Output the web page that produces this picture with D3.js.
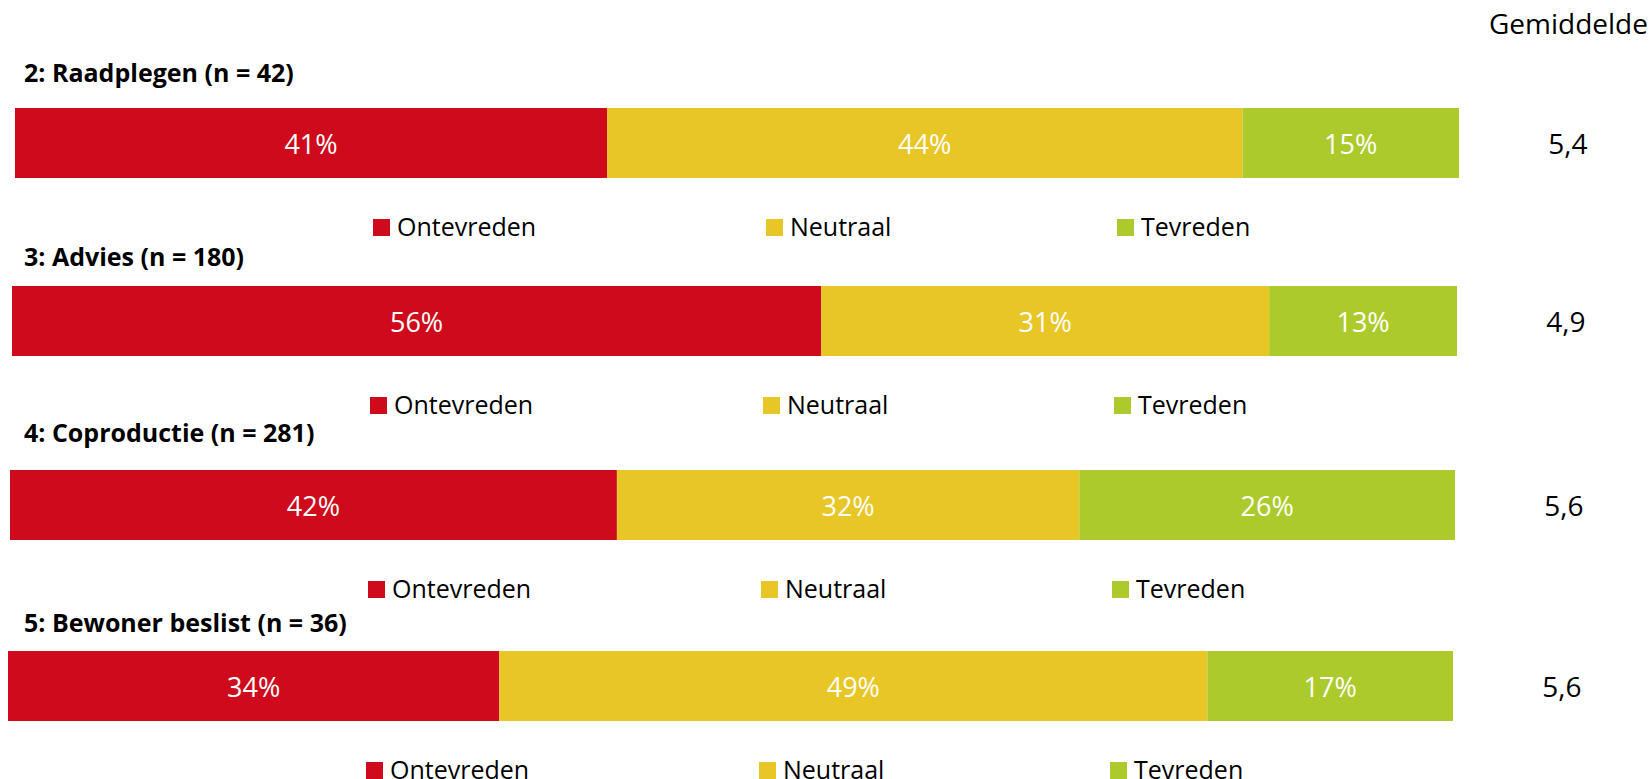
<!DOCTYPE html>
<html lang="nl">
<head>
    <meta charset="UTF-8">
    <title>Tevredenheid per trede</title>
    <script src="https://d3js.org/d3.v7.min.js"></script>
    <style>
        body { margin: 0; background: #fff; }
        svg text { font-family: "Open Sans", "DejaVu Sans", sans-serif; }
    </style>
</head>
<body>
<div id="chartArea"></div>

<script>
    // data
    const categories = ["2: Raadplegen (n = 42)", "3: Advies (n = 180)", "4: Coproductie (n = 281)", "5: Bewoner beslist (n = 36)"];
    const seriesNames = ["Ontevreden", "Neutraal", "Tevreden"];
    const ontevreden = [41, 56, 42, 34];
    const neutraal = [44, 31, 32, 49];
    const tevreden = [15, 13, 26, 17];
    const gemiddelde = [5.4, 4.9, 5.6, 5.6];
    const meanTitle = "Gemiddelde";

    const colors = ["#ce0a1c", "#e8c626", "#acca2b"];

    // every panel is its own little chart, each shifted a bit
    const panels = [
        { left: 15, right: 1459, barTop: 108, titleY: 82 },
        { left: 12, right: 1457, barTop: 286, titleY: 266 },
        { left: 10, right: 1455, barTop: 470, titleY: 442 },
        { left: 8,  right: 1453, barTop: 651, titleY: 632 }
    ];
    const barH = 70;
    const legendX = [358, 751, 1102];

    const rows = categories.map((c, i) => ({
        cat: c, Ontevreden: ontevreden[i], Neutraal: neutraal[i], Tevreden: tevreden[i], mean: gemiddelde[i]
    }));
    const stack = d3.stack().keys(seriesNames)(rows);
    const color = d3.scaleOrdinal().domain(seriesNames).range(colors);
    const fmtMean = v => d3.format(".1f")(v).replace(".", ",");

    const svg = d3.select("#chartArea").append("svg")
        .attr("width", 1650)
        .attr("height", 779);

    svg.append("text")
        .attr("x", 1489)
        .attr("y", 34)
        .attr("font-size", 28)
        .attr("fill", "#000")
        .text(meanTitle);

    panels.forEach((p, i) => {
        const x = d3.scaleLinear().domain([0, 100]).range([p.left, p.right]);
        const g = svg.append("g");

        g.append("text")
            .attr("x", 24)
            .attr("y", p.titleY)
            .attr("font-size", 25)
            .attr("font-weight", "bold")
            .attr("fill", "#000")
            .text(categories[i]);

        const segs = stack.map(s => ({ key: s.key, d0: s[i][0], d1: s[i][1] }));

        g.selectAll("rect.seg")
            .data(segs)
            .enter()
            .append("rect")
            .attr("class", "seg")
            .attr("x", d => x(d.d0))
            .attr("y", p.barTop)
            .attr("width", d => x(d.d1) - x(d.d0))
            .attr("height", barH)
            .attr("fill", d => color(d.key));

        g.selectAll("text.lbl")
            .data(segs)
            .enter()
            .append("text")
            .attr("class", "lbl")
            .attr("x", d => (x(d.d0) + x(d.d1)) / 2)
            .attr("y", p.barTop + barH / 2 + 11)
            .attr("text-anchor", "middle")
            .attr("font-size", 27)
            .attr("fill", "#fff")
            .text(d => (d.d1 - d.d0) + "%");

        g.append("text")
            .attr("x", p.right + 109)
            .attr("y", p.barTop + barH / 2 + 11)
            .attr("text-anchor", "middle")
            .attr("font-size", 28)
            .attr("fill", "#000")
            .text(fmtMean(rows[i].mean));

        // legend under each bar
        const leg = g.selectAll("g.leg")
            .data(seriesNames)
            .enter()
            .append("g")
            .attr("class", "leg")
            .attr("transform", (d, j) => "translate(" + (p.left + legendX[j]) + "," + (p.barTop + 111) + ")");
        leg.append("rect")
            .attr("width", 17)
            .attr("height", 17)
            .attr("fill", d => color(d));
        leg.append("text")
            .attr("x", 24)
            .attr("y", 17)
            .attr("font-size", 25)
            .attr("fill", "#000")
            .text(d => d);
    });
</script>
</body>
</html>
